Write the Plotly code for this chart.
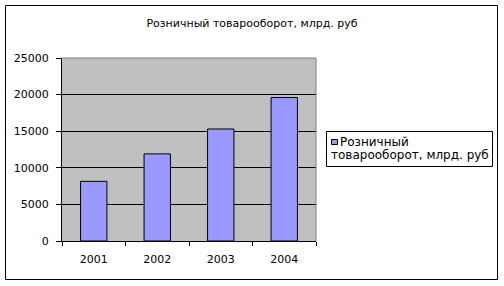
import plotly.graph_objects as go

years = ["2001", "2002", "2003", "2004"]
turnover = [8150, 11900, 15300, 19600]
series_name = "Розничный товарооборот, млрд. руб"
legend_line1 = "Розничный"
legend_line2 = "товарооборот, млрд. руб"
y_ticks = [0, 5000, 10000, 15000, 20000, 25000]
y_tick_labels = ["0", "5000", "10000", "15000", "20000", "25000"]

W, H = 504, 286
L, R, T, B = 62, 188, 58, 45
pw, ph = W - L - R, H - T - B

def px(x):
    return (x - L) / pw

def py(y):
    return (H - B - y) / ph

FONT = "DejaVu Sans, Arial, sans-serif"
FS = 11
FS_LEG = 12

fig = go.Figure()
fig.add_trace(go.Bar(
    x=years, y=turnover, name=series_name,
    marker=dict(color="#9999FF", line=dict(color="#000000", width=1)),
    showlegend=False,
))

fig.update_layout(
    width=W, height=H,
    margin=dict(l=L, r=R, t=T, b=B),
    paper_bgcolor="#FFFFFF",
    plot_bgcolor="#C0C0C0",
    bargap=0.585,
    font=dict(family=FONT, size=FS, color="#000000"),
    title=dict(text=series_name, x=0.5, xref="container", xanchor="center",
               y=1 - 23.5 / H, yref="container", yanchor="middle",
               font=dict(family=FONT, size=FS, color="#000000")),
    xaxis=dict(
        showline=True, linecolor="#000000", linewidth=1,
        ticks="outside", ticklen=4, tickcolor="#000000",
        tickson="boundaries", showgrid=False, zeroline=False,
        ticklabelstandoff=8,
    ),
    yaxis=dict(
        range=[0, 25000], tickvals=y_ticks, ticktext=y_tick_labels,
        showline=True, linecolor="#000000", linewidth=1,
        ticks="outside", ticklen=5, tickcolor="#000000",
        showgrid=True, gridcolor="#000000", gridwidth=1,
        zeroline=False, ticklabelstandoff=5,
    ),
)

shapes = []
shapes.append(dict(type="line", xref="paper", yref="paper", x0=0, x1=1, y0=1, y1=1,
                   line=dict(color="#808080", width=1)))
shapes.append(dict(type="line", xref="paper", yref="paper", x0=1, x1=1, y0=0, y1=1,
                   line=dict(color="#808080", width=1)))
shapes.append(dict(type="rect", xref="paper", yref="paper",
                   x0=px(5.5), x1=px(497.5), y0=py(279.5), y1=py(5.5),
                   line=dict(color="#000000", width=1), fillcolor="rgba(0,0,0,0)"))
shapes.append(dict(type="rect", xref="paper", yref="paper",
                   x0=px(326.5), x1=px(492.5), y0=py(166.5), y1=py(131.5),
                   line=dict(color="#000000", width=1), fillcolor="rgba(0,0,0,0)"))
shapes.append(dict(type="rect", xref="paper", yref="paper",
                   x0=px(331.5), x1=px(337.5), y0=py(144.5), y1=py(139.5),
                   line=dict(color="#000000", width=1), fillcolor="#9999FF"))
fig.update_layout(shapes=shapes)

fig.add_annotation(text=legend_line1, xref="paper", yref="paper",
                   x=px(338), y=py(142), xanchor="left", yanchor="middle",
                   showarrow=False, font=dict(family=FONT, size=FS_LEG))
fig.add_annotation(text=legend_line2, xref="paper", yref="paper",
                   x=px(329), y=py(155), xanchor="left", yanchor="middle",
                   showarrow=False, font=dict(family=FONT, size=FS_LEG))

fig.write_html("out.html")
